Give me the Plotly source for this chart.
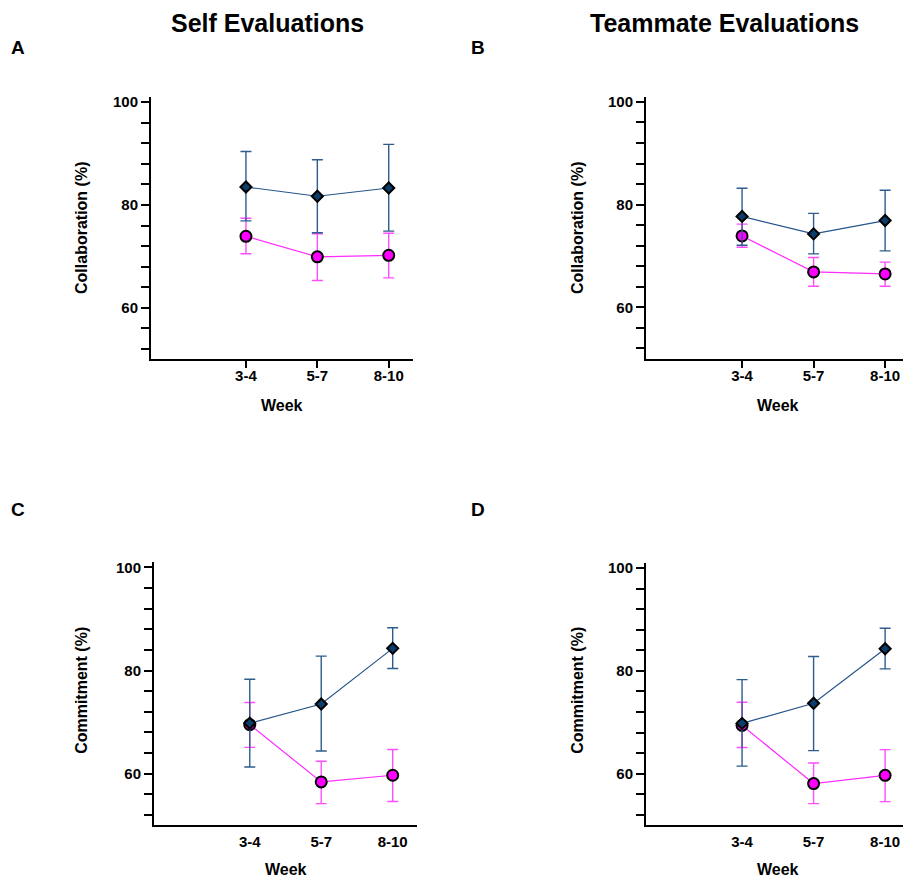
import plotly.graph_objects as go

weeks = ["3-4", "5-7", "8-10"]

# Panel A: Self, Collaboration
a_blue = [83.5, 81.7, 83.3]
a_blue_up = [90.4, 88.8, 91.8]
a_blue_lo = [76.9, 74.6, 74.9]
a_pink = [73.9, 69.9, 70.2]
a_pink_up = [77.4, 74.4, 74.5]
a_pink_lo = [70.5, 65.3, 65.8]

# Panel B: Teammate, Collaboration
b_blue = [77.7, 74.3, 76.9]
b_blue_up = [83.2, 78.3, 82.8]
b_blue_lo = [72.1, 70.4, 71.0]
b_pink = [73.9, 66.9, 66.5]
b_pink_up = [76.2, 69.7, 68.8]
b_pink_lo = [71.7, 64.1, 64.1]

# Panel C: Self, Commitment
c_blue = [69.8, 73.5, 84.3]
c_blue_up = [78.3, 82.8, 88.3]
c_blue_lo = [61.3, 64.4, 80.4]
c_pink = [69.5, 58.4, 59.7]
c_pink_up = [73.8, 62.4, 64.7]
c_pink_lo = [65.1, 54.2, 54.6]

# Panel D: Teammate, Commitment
d_blue = [69.8, 73.7, 84.3]
d_blue_up = [78.3, 82.8, 88.3]
d_blue_lo = [61.5, 64.5, 80.4]
d_pink = [69.4, 58.1, 59.7]
d_pink_up = [73.9, 62.1, 64.7]
d_pink_lo = [65.1, 54.2, 54.6]

y_ticks = list(range(52, 101, 4))
y_labels = [str(v) if v in (60, 80, 100) else "" for v in y_ticks]

W, H = 903, 879
FONT = "Liberation Sans, Arial, sans-serif"
BLUE_LINE = "#24548a"
BLUE_FILL = "#0d3d6b"
BLUE_ERR = "#2e5d8c"
PINK_LINE = "#ff2bff"
PINK_FILL = "#ff00ff"
PINK_ERR = "#ff4dff"

xpos = [i + 1 for i in range(len(weeks))]

fig = go.Figure()

panels = [
    ("", a_blue, a_blue_up, a_blue_lo, a_pink, a_pink_up, a_pink_lo, (151, 413), 93.5, 356.7, [-0.33, 3.34], True),
    ("2", b_blue, b_blue_up, b_blue_lo, b_pink, b_pink_up, b_pink_lo, (646, 903), 93.2, 356.3, [-0.343, 3.25], True),
    ("3", c_blue, c_blue_up, c_blue_lo, c_pink, c_pink_up, c_pink_lo, (154, 417), 560.8, 825.0, [-0.34, 3.34], False),
    ("4", d_blue, d_blue_up, d_blue_lo, d_pink, d_pink_up, d_pink_lo, (646, 903), 561.4, 825.0, [-0.343, 3.25], False),
]

for suf, bl, blu, bll, pk, pku, pkl, xd, yt, yb, xr, xt in panels:
    xa = "x" + suf
    ya = "y" + suf
    fig.add_trace(go.Scatter(
        x=xpos, y=pk, xaxis=xa, yaxis=ya, mode="lines+markers",
        line=dict(color=PINK_LINE, width=1.2),
        marker=dict(symbol="circle", size=11, color=PINK_FILL, line=dict(color="black", width=2)),
        error_y=dict(type="data", symmetric=False,
                     array=[u - v for u, v in zip(pku, pk)],
                     arrayminus=[v - l for v, l in zip(pk, pkl)],
                     color=PINK_ERR, thickness=1.4, width=5.5),
        showlegend=False, hoverinfo="skip"))
    fig.add_trace(go.Scatter(
        x=xpos, y=bl, xaxis=xa, yaxis=ya, mode="lines+markers",
        line=dict(color=BLUE_LINE, width=1.2),
        marker=dict(symbol="diamond", size=8.5, color=BLUE_FILL, line=dict(color="black", width=2)),
        error_y=dict(type="data", symmetric=False,
                     array=[u - v for u, v in zip(blu, bl)],
                     arrayminus=[v - l for v, l in zip(bl, bll)],
                     color=BLUE_ERR, thickness=1.4, width=5.5),
        showlegend=False, hoverinfo="skip"))
    xkey = "xaxis" + suf
    ykey = "yaxis" + suf
    fig.layout[xkey] = dict(
        domain=[xd[0] / W, min(xd[1] / W, 1.0)], range=xr, anchor=ya,
        tickmode="array", tickvals=xpos, ticktext=weeks,
        ticks="outside", ticklen=7, tickwidth=2,
        tickcolor="black" if xt else "rgba(0,0,0,0)",
        ticklabelstandoff=-5,
        showline=True, linecolor="black", linewidth=2, showgrid=False, zeroline=False,
        tickfont=dict(family=FONT, size=15, color="black", weight="bold"))
    fig.layout[ykey] = dict(
        domain=[1 - yb / H, 1 - yt / H], range=[50, 101], anchor=xa,
        tickmode="array", tickvals=y_ticks, ticktext=y_labels,
        ticks="outside", ticklen=8, tickwidth=2, tickcolor="black",
        showline=True, linecolor="black", linewidth=2, showgrid=False, zeroline=False,
        tickfont=dict(family=FONT, size=15, color="black", weight="bold"))

ann = []
def txt(x, y, s, size, angle=0):
    ann.append(dict(x=x / W, y=1 - y / H, xref="paper", yref="paper", text=s,
                    showarrow=False, textangle=angle, xanchor="center", yanchor="middle",
                    font=dict(family=FONT, size=size, color="black", weight="bold")))

txt(267, 19, "Self Evaluations", 25)
txt(724, 19, "Teammate Evaluations", 25)
txt(18, 44, "A", 19)
txt(478, 44, "B", 19)
txt(18, 508, "C", 19)
txt(478, 508, "D", 19)
txt(82, 225, "Collaboration (%)", 16, -90)
txt(578, 225, "Collaboration (%)", 16, -90)
txt(82, 690, "Commitment (%)", 16, -90)
txt(578, 690, "Commitment (%)", 16, -90)
txt(282, 403, "Week", 16)
txt(778, 403, "Week", 16)
txt(286, 869, "Week", 16)
txt(778, 869, "Week", 16)

fig.update_layout(width=W, height=H, margin=dict(l=0, r=0, t=0, b=0),
                  paper_bgcolor="white", plot_bgcolor="white",
                  annotations=ann, showlegend=False)

fig.write_html("out.html", config={"displayModeBar": False},
               post_script="document.body.style.margin='0';")
